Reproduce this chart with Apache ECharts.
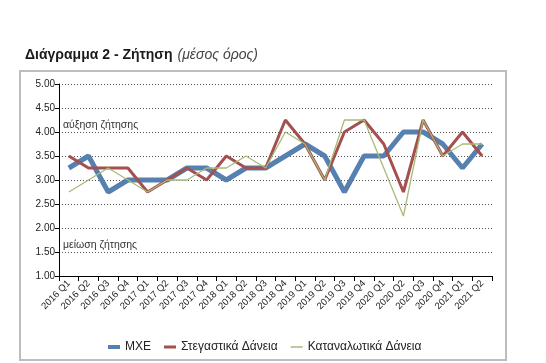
<!DOCTYPE html>
<html><head><meta charset="utf-8">
<script src="https://cdn.jsdelivr.net/npm/echarts@6/dist/echarts.min.js"></script>
<style>html,body{margin:0;padding:0;background:#fff}#c{width:546px;height:363px}</style>
</head><body><div id="c"></div>
<script>
const categories = ["2016 Q1","2016 Q2","2016 Q3","2016 Q4","2017 Q1","2017 Q2","2017 Q3","2017 Q4","2018 Q1","2018 Q2","2018 Q3","2018 Q4","2019 Q1","2019 Q2","2019 Q3","2019 Q4","2020 Q1","2020 Q2","2020 Q3","2020 Q4","2021 Q1","2021 Q2"];
const mxe =      [3.25,3.5,2.75,3.0,3.0,3.0,3.25,3.25,3.0,3.25,3.25,3.5,3.75,3.5,2.75,3.5,3.5,4.0,4.0,3.75,3.25,3.75];
const housing =  [3.5,3.25,3.25,3.25,2.75,3.0,3.25,3.0,3.5,3.25,3.25,4.25,3.75,3.0,4.0,4.25,3.75,2.75,4.25,3.5,4.0,3.5];
const consumer = [2.75,3.0,3.25,3.0,2.75,3.0,3.0,3.25,3.25,3.5,3.25,4.0,3.75,3.0,4.25,4.25,3.25,2.25,4.25,3.5,3.75,3.75];
const seriesNames = ["ΜΧΕ","Στεγαστικά Δάνεια","Καταναλωτικά Δάνεια"];
const yTicks = {min:1, max:5, interval:0.5};

const chart = echarts.init(document.getElementById('c'));
const font = "'Liberation Sans', Arial, sans-serif";
const lineIcon = (t) => {
  const a = (8 - t) / 2;
  return 'path://M0,0h0.01v0.01h-0.01z M11.99,7.99h0.01v0.01h-0.01z M0,' + a + 'h12v' + t + 'h-12z';
};
chart.setOption({
  animation:false,
  title:{
    left:20, top:41,
    text:'{b|Διάγραμμα 2 - Ζήτηση} {i|(μέσος όρος)}',
    textStyle:{rich:{
      b:{fontFamily:font,fontWeight:'bold',fontSize:14,color:'#1a1a1a'},
      i:{fontFamily:font,fontStyle:'italic',fontWeight:'normal',fontSize:14,color:'#444'}
    }}
  },
  graphic:[
    {type:'rect',shape:{x:20,y:71,width:486,height:289},style:{fill:'none',stroke:'#bdbdbd',lineWidth:2},z:-1},
    {type:'text',left:63,top:120,style:{text:'αύξηση ζήτησης',font:"10.5px 'Liberation Sans', Arial, sans-serif",fill:'#333'}},
    {type:'text',left:63,top:240,style:{text:'μείωση ζήτησης',font:"10.5px 'Liberation Sans', Arial, sans-serif",fill:'#333'}}
  ],
  grid:{left:59,right:54,top:84,bottom:87},
  legend:{
    bottom:5, left:103, itemWidth:12, itemHeight:8, itemGap:13,
    textStyle:{fontFamily:font,fontSize:12,color:'#222'},
    data:[
      {name:seriesNames[0],icon:lineIcon(4)},
      {name:seriesNames[1],icon:lineIcon(3)},
      {name:seriesNames[2],icon:lineIcon(1.5)}
    ]
  },
  xAxis:{
    type:'category', data:categories, boundaryGap:true,
    axisLine:{lineStyle:{color:'#000',width:1}},
    axisTick:{show:true,length:5,lineStyle:{color:'#000'}},
    axisLabel:{rotate:45,fontFamily:font,fontSize:9.5,color:'#222',margin:6,interval:0}
  },
  yAxis:{
    type:'value', min:yTicks.min, max:yTicks.max, interval:yTicks.interval,
    axisLine:{show:true,lineStyle:{color:'#000',width:1}},
    axisTick:{show:true,length:4,lineStyle:{color:'#000'}},
    axisLabel:{formatter:v=>v.toFixed(2),fontFamily:font,fontSize:10,color:'#222',margin:4},
    splitLine:{show:true,lineStyle:{color:'#555',type:[1,2],width:1}}
  },
  series:[
    {name:seriesNames[0],type:'line',data:mxe,symbol:'none',lineStyle:{width:5,color:'#5580b0'},itemStyle:{color:'#5580b0'},z:2},
    {name:seriesNames[1],type:'line',data:housing,symbol:'none',lineStyle:{width:3,color:'#a4504e'},itemStyle:{color:'#a4504e'},z:3},
    {name:seriesNames[2],type:'line',data:consumer,symbol:'none',lineStyle:{width:1.3,color:'#a7bb78'},itemStyle:{color:'#a7bb78'},z:4}
  ]
});
</script></body></html>
